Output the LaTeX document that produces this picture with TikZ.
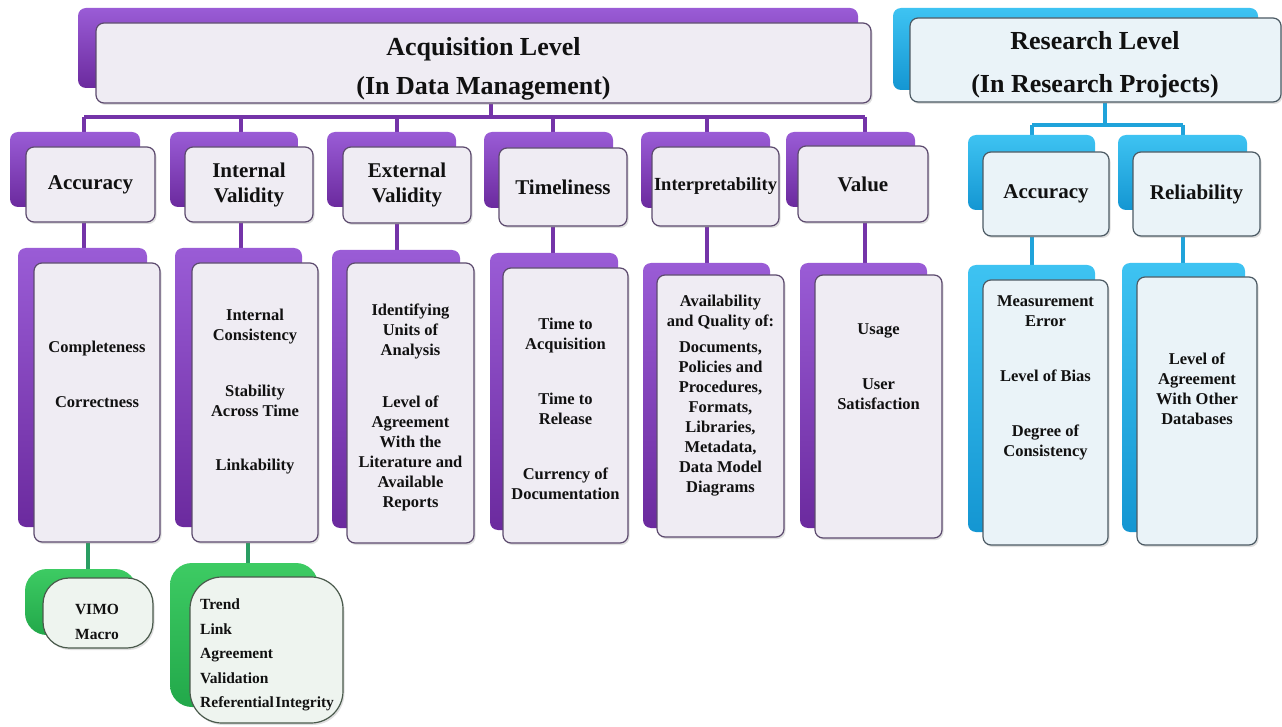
\documentclass[tikz,border=0pt]{standalone}
\usepackage{fontspec}
\setmainfont{Liberation Serif}
\usetikzlibrary{shadows}
\definecolor{purTop}{HTML}{9A5CD6}
\definecolor{purBot}{HTML}{6B2A9E}
\definecolor{purLine}{HTML}{7434A8}
\definecolor{purFill}{HTML}{EFECF3}
\definecolor{purEdge}{HTML}{5C4A6E}
\definecolor{bluTop}{HTML}{3EC3F2}
\definecolor{bluBot}{HTML}{1496D2}
\definecolor{bluLine}{HTML}{1FA3DA}
\definecolor{bluFill}{HTML}{EAF3F8}
\definecolor{bluEdge}{HTML}{4C5A64}
\definecolor{grnTop}{HTML}{3DCB63}
\definecolor{grnBot}{HTML}{22A84A}
\definecolor{grnLine}{HTML}{2A9D62}
\definecolor{grnFill}{HTML}{EEF4EF}
\definecolor{grnEdge}{HTML}{4A5A4C}
\definecolor{txt}{HTML}{111111}
\pgfdeclarelayer{bg}
\pgfsetlayers{bg,main}
\tikzset{
  backbox/.style={rounded corners=8pt, draw=none, inner sep=0pt},
  pback/.style={backbox, top color=purTop, bottom color=purBot},
  bback/.style={backbox, top color=bluTop, bottom color=bluBot},
  gback/.style={backbox, top color=grnTop, bottom color=grnBot, rounded corners=22pt},
  frontbox/.style={rounded corners=8pt, line width=1.2pt, inner sep=0pt, text=txt,
    drop shadow={opacity=0.25, shadow xshift=1.5pt, shadow yshift=-2pt}},
  pfront/.style={frontbox, draw=purEdge, fill=purFill},
  bfront/.style={frontbox, draw=bluEdge, fill=bluFill},
  gfront/.style={frontbox, draw=grnEdge, fill=grnFill, rounded corners=26pt},
  pline/.style={line width=3.5pt, draw=purLine},
  bline/.style={line width=3.5pt, draw=bluLine},
  gline/.style={line width=3.5pt, draw=grnLine},
  headtext/.style={font=\bfseries\fontsize{26}{39}\selectfont, align=center, text=txt},
  rheadtext/.style={font=\bfseries\fontsize{26}{43}\selectfont, align=center, text=txt},
  cattext/.style={font=\bfseries\fontsize{21}{25}\selectfont, align=center},
  smallcat/.style={font=\bfseries\fontsize{18.5}{22}\selectfont, align=center},
  dettext/.style={font=\bfseries\fontsize{16.5}{20}\selectfont, align=center, text=txt, inner sep=0pt},
  grntext/.style={font=\bfseries\fontsize{15.5}{24.5}\selectfont, text=txt, inner sep=0pt},
}
\newcommand{\mkbox}[7]{\node[#1, minimum width={(#5)-(#3)}, minimum height={(#6)-(#4)}] (#2) at ({((#3)+(#5))/2},{((#4)+(#6))/2}) {#7};}
\begin{document}
\begin{tikzpicture}[x=1pt,y=-1pt]
\useasboundingbox (0,0) rectangle (1282,727);
% ---------- Acquisition level ----------
\mkbox{pback}{acqB}{78}{8}{858}{88}{}
\mkbox{pfront}{acqF}{96}{23}{871}{103}{}
\node[headtext] (acqT) at (483.5,69) {Acquisition Level\\(In Data Management)};
% categories
\mkbox{pback}{cB1}{10}{132}{140}{207}{}
\mkbox{pfront,cattext}{cF1}{26}{147}{155}{222}{Accuracy\vphantom{y}}
\mkbox{pback}{cB2}{170}{132}{298}{207}{}
\mkbox{pfront,cattext}{cF2}{185}{147}{313}{222}{Internal\\Validity}
\mkbox{pback}{cB3}{327}{132}{456}{207}{}
\mkbox{pfront,cattext}{cF3}{343}{147}{471}{223}{External\\Validity}
\mkbox{pback}{cB4}{484}{132}{613}{208}{}
\mkbox{pfront,cattext}{cF4}{499}{148}{627}{226}{Timeliness}
\mkbox{pback}{cB5}{641}{132}{770}{208}{}
\mkbox{pfront,smallcat}{cF5}{652}{147}{779}{226}{Interpretability}
\mkbox{pback}{cB6}{786}{132}{915}{207}{}
\mkbox{pfront,cattext}{cF6}{798}{146}{928}{222}{Value}
% details
\mkbox{pback}{dB1}{18}{248}{147}{527}{}
\mkbox{pfront}{dF1}{34}{263}{160}{542}{}
\mkbox{pback}{dB2}{175}{248}{302}{527}{}
\mkbox{pfront}{dF2}{192}{263}{318}{542}{}
\mkbox{pback}{dB3}{332}{250}{460}{528}{}
\mkbox{pfront}{dF3}{347}{263}{474}{543}{}
\mkbox{pback}{dB4}{490}{253}{618}{530}{}
\mkbox{pfront}{dF4}{503}{268}{628}{543}{}
\mkbox{pback}{dB5}{643}{263}{770}{528}{}
\mkbox{pfront}{dF5}{657}{275}{784}{537}{}
\mkbox{pback}{dB6}{800}{263}{927}{528}{}
\mkbox{pfront}{dF6}{815}{275}{942}{538}{}
\node[dettext] (t1) at (97,374) {Completeness\\[35pt]Correctness};
\node[dettext] (t2) at (255,392) {Internal\\Consistency\\[36pt]Stability\\Across Time\\[34pt]Linkability};
\node[dettext] (t3) at (410.5,407) {Identifying\\Units of\\Analysis\\[32pt]Level of\\Agreement\\With the\\Literature and\\Available\\Reports};
\node[dettext] (t4) at (565.5,409) {Time to\\Acquisition\\[35pt]Time to\\Release\\[35pt]Currency of\\Documentation};
\node[dettext] (t5) at (720.5,396) {Availability\\and Quality of:\\[6pt]Documents,\\Policies and\\Procedures,\\Formats,\\Libraries,\\Metadata,\\Data Model\\Diagrams};
\node[dettext] (t6) at (878.5,366.5) {Usage\\[35pt]User\\Satisfaction};
% green boxes
\mkbox{gback}{gB1}{25}{569}{137}{635}{}
\mkbox{gfront}{gF1}{43}{578}{153}{648}{}
\mkbox{gback}{gB2}{170}{563}{318}{707}{}
\mkbox{gfront,rounded corners=32pt}{gF2}{190}{577}{343}{723}{}
\node[grntext, align=center] (gt1) at (97,622) {VIMO\\Macro};
\node[grntext, align=left, anchor=west] (gt2) at (200,655) {Trend\\Link\\Agreement\\Validation\\Referential\hspace{1.5pt}Integrity};
% ---------- Research level ----------
\mkbox{bback}{resB}{893}{8}{1258}{90}{}
\mkbox{bfront}{resF}{910}{18}{1281}{102}{}
\node[rheadtext] (resT) at (1095,65) {Research Level\\(In Research Projects)};
\mkbox{bback}{rcB1}{968}{135}{1095}{210}{}
\mkbox{bfront,cattext}{rcF1}{983}{152}{1109}{236}{Accuracy\vphantom{y}}
\mkbox{bback}{rcB2}{1118}{135}{1247}{210}{}
\mkbox{bfront,cattext}{rcF2}{1133}{152}{1260}{236}{Reliability}
\mkbox{bback}{rdB1}{968}{265}{1095}{532}{}
\mkbox{bfront}{rdF1}{983}{280}{1108}{545}{}
\mkbox{bback}{rdB2}{1122}{263}{1245}{532}{}
\mkbox{bfront}{rdF2}{1137}{277}{1257}{545}{}
\node[dettext] (rt1) at (1045.5,378) {Measurement\\Error\\[35pt]Level of Bias\\[35pt]Degree of\\Consistency};
\node[dettext] (rt2) at (1197,389) {Level of\\Agreement\\With Other\\Databases};
% ---------- connectors ----------
\coordinate (busC) at (491,117);
\coordinate (b1) at (84,117);
\coordinate (b2) at (241,117);
\coordinate (b3) at (397,117);
\coordinate (b4) at (553,117);
\coordinate (b5) at (707,117);
\coordinate (b6) at (865,117);
\coordinate (rbC) at (1105,125);
\coordinate (rb1) at (1032,125);
\coordinate (rb2) at (1183,125);
\coordinate (g1) at (88,555);
\coordinate (g2) at (248,555);
\begin{pgfonlayer}{bg}
\fill[white] (0,0) rectangle (1282,727);
\draw[pline] (acqF.south -| busC) -- (busC);
\draw[pline] (b1) -- (b6);
\foreach \i in {1,...,6}{
  \draw[pline] (b\i) -- (b\i |- cB\i.north);
  \draw[pline] (cF\i.south -| b\i) -- (b\i |- dB\i.north);
}
\draw[bline] (resF.south -| rbC) -- (rbC);
\draw[bline] (rb1) -- (rb2);
\foreach \i in {1,2}{
  \draw[bline] (rb\i) -- (rb\i |- rcB\i.north);
  \draw[bline] (rcF\i.south -| rb\i) -- (rb\i |- rdB\i.north);
}
\draw[gline] (dF1.south -| g1) -- (g1 |- gB1.north);
\draw[gline] (dF2.south -| g2) -- (g2 |- gB2.north);
\end{pgfonlayer}
\end{tikzpicture}
\end{document}
